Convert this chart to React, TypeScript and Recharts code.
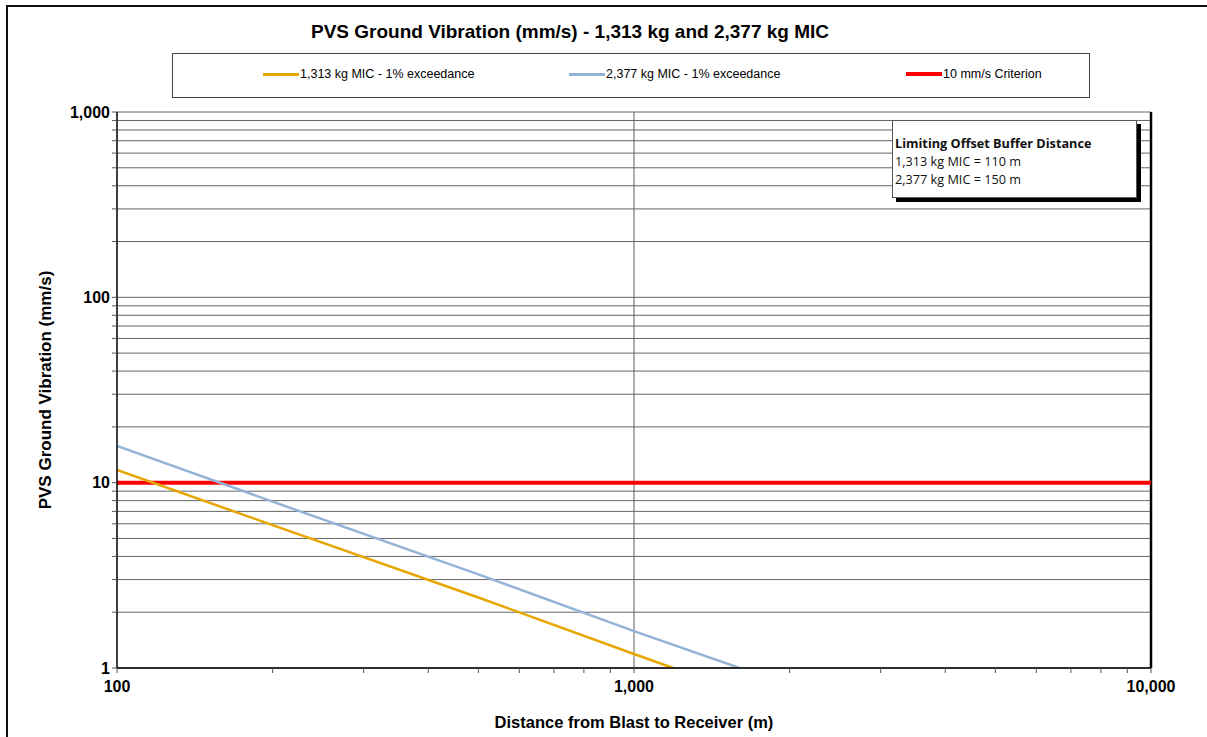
import React from 'react';
import {
    LineChart,
    Line,
    XAxis,
    YAxis,
    CartesianGrid,
    ReferenceLine,
} from 'recharts';

// series (distance m, PVS mm/s)
const goldDistance = [100, 200, 500, 1000, 1190];
const goldPvs = [11.7, 5.9, 2.4, 1.19, 1.0];
const blueDistance = [100, 200, 500, 1000, 1600];
const bluePvs = [15.8, 7.9, 3.2, 1.58, 1.0];
const criterionDistance = [100, 10000];
const criterionPvs = [10, 10];

const xTicks = [100, 200, 300, 400, 500, 600, 700, 800, 900, 1000, 2000, 3000, 4000, 5000, 6000, 7000, 8000, 9000, 10000];
const yTicks = [1, 2, 3, 4, 5, 6, 7, 8, 9, 10, 20, 30, 40, 50, 60, 70, 80, 90, 100, 200, 300, 400, 500, 600, 700, 800, 900, 1000];
const majorTicks = [1, 10, 100, 1000, 10000];

const seriesNames = ['1,313 kg MIC - 1% exceedance', '2,377 kg MIC - 1% exceedance', '10 mm/s Criterion'];
const seriesColors = ['#E6A600', '#95B3D7', '#FF0000'];

const noteTitle = 'Limiting Offset Buffer Distance';
const noteLines = ['1,313 kg MIC = 110 m', '2,377 kg MIC = 150 m'];

const toPoints = (xs: number[], ys: number[]) => xs.map((x, i) => ({ x, y: ys[i] }));

const fmt = (v: number) => (majorTicks.includes(v) ? v.toLocaleString('en-US') : '');

const font = '"Liberation Sans", Arial, sans-serif';

function LegendBox() {
    const lefts = [90, 396, 733];
    return (
        <div style={{
            position: 'absolute', left: 172, top: 53, width: 918, height: 45, boxSizing: 'border-box',
            border: '1px solid #444', background: '#fff', fontFamily: font, fontSize: 12.5,
        }}>
            {seriesNames.map((name, i) => (
                <div key={name} style={{ position: 'absolute', left: lefts[i], top: 13, display: 'flex', alignItems: 'center' }}>
                    <span style={{ display: 'inline-block', width: 36, height: i === 2 ? 4 : 3, background: seriesColors[i] }} />
                    <span style={{ marginLeft: 1, color: '#000' }}>{name}</span>
                </div>
            ))}
        </div>
    );
}

export default function App() {
    return (
        <div style={{ position: 'absolute', left: 0, top: 0, width: 1207, height: 737, background: '#fff', overflow: 'hidden' }}>
            {/* outer frame, right/bottom edge cropped off */}
            <div style={{ position: 'absolute', left: 6, top: 5, width: 1300, height: 800, border: '2px solid #111' }} />
            <div style={{
                position: 'absolute', left: 0, width: 1140, top: 21, textAlign: 'center',
                fontFamily: font, fontWeight: 'bold', fontSize: 19,
            }}>
                PVS Ground Vibration (mm/s) - 1,313 kg and 2,377 kg MIC
            </div>
            <LegendBox />
            <div style={{ position: 'absolute', left: 0, top: 0 }}>
                <LineChart width={1207} height={737} margin={{ top: 112, right: 56, left: 57, bottom: 39 }}>
                    <CartesianGrid vertical={false} stroke="#666" strokeWidth={1} />
                    <XAxis
                        dataKey="x"
                        type="number"
                        scale="log"
                        domain={[100, 10000]}
                        ticks={xTicks}
                        tickFormatter={fmt}
                        allowDataOverflow
                        height={30}
                        axisLine={{ stroke: '#000', strokeWidth: 1.5 }}
                        tickLine={{ stroke: '#555' }}
                        tickSize={5}
                        tickMargin={8}
                        tick={{ fill: '#000', fontFamily: font, fontWeight: 'bold', fontSize: 16 }}
                        interval={0}
                        label={{ value: 'Distance from Blast to Receiver (m)', position: 'insideBottom', offset: -30, fill: '#000', fontFamily: font, fontWeight: 'bold', fontSize: 16.5 }}
                    />
                    <YAxis
                        dataKey="y"
                        type="number"
                        scale="log"
                        domain={[1, 1000]}
                        ticks={yTicks}
                        tickFormatter={fmt}
                        allowDataOverflow
                        width={60}
                        axisLine={{ stroke: '#000', strokeWidth: 1.5 }}
                        tickLine={{ stroke: '#555' }}
                        tickSize={5}
                        tick={{ fill: '#000', fontFamily: font, fontWeight: 'bold', fontSize: 16 }}
                        interval={0}
                        label={{ value: 'PVS Ground Vibration (mm/s)', angle: -90, position: 'insideLeft', offset: -12, style: { textAnchor: 'middle' }, fill: '#000', fontFamily: font, fontWeight: 'bold', fontSize: 17 }}
                    />
                    <ReferenceLine x={1000} stroke="#606060" strokeWidth={1} />
                    <ReferenceLine x={10000} stroke="#000" strokeWidth={2.5} />
                    <Line data={toPoints(criterionDistance, criterionPvs)} dataKey="y" name={seriesNames[2]} stroke={seriesColors[2]} strokeWidth={4} dot={false} isAnimationActive={false} />
                    <Line data={toPoints(goldDistance, goldPvs)} dataKey="y" name={seriesNames[0]} stroke={seriesColors[0]} strokeWidth={2.5} dot={false} isAnimationActive={false} />
                    <Line data={toPoints(blueDistance, bluePvs)} dataKey="y" name={seriesNames[1]} stroke={seriesColors[1]} strokeWidth={2.5} dot={false} isAnimationActive={false} />
                </LineChart>
            </div>
            {/* annotation box */}
            <div style={{
                position: 'absolute', left: 892, top: 120, width: 245, height: 78, boxSizing: 'border-box',
                background: '#fff', border: '1px solid #555', boxShadow: '4px 4px 0 #000',
                fontFamily: '"Open Sans", Lato, sans-serif', fontSize: 12.7, lineHeight: '18px',
                padding: '13px 0 0 2px', color: '#111',
            }}>
                <div style={{ fontWeight: 'bold' }}>{noteTitle}</div>
                {noteLines.map((l) => <div key={l}>{l}</div>)}
            </div>
        </div>
    );
}
